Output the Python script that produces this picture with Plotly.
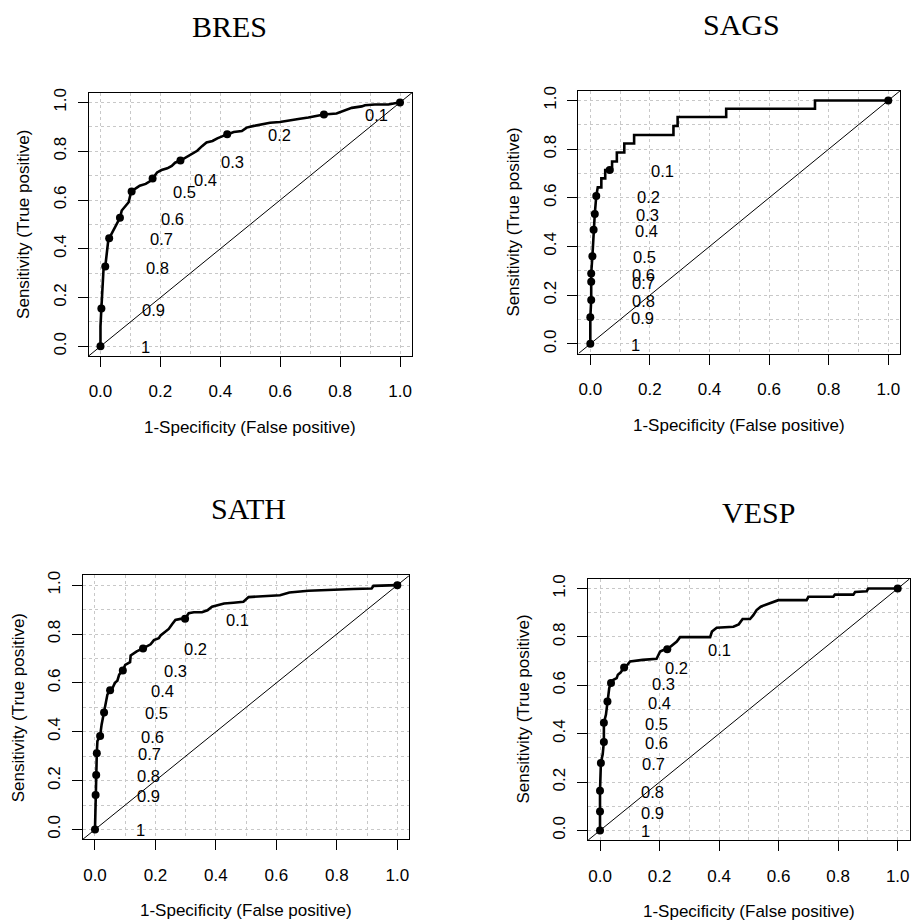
import plotly.graph_objects as go

# ---------------- data ----------------
CUTOFFS = [1.0, 0.9, 0.8, 0.7, 0.6, 0.5, 0.4, 0.3, 0.2, 0.1, 0.0]

BRES_FPR = [0, 0, 0.003, 0.007, 0.010, 0.016, 0.020, 0.026, 0.029, 0.038, 0.048, 0.059, 0.065,
            0.071, 0.082, 0.094, 0.100, 0.104, 0.118, 0.131, 0.151, 0.165, 0.174, 0.189, 0.204,
            0.223, 0.238, 0.249, 0.267, 0.285, 0.305, 0.323, 0.339, 0.354, 0.374, 0.390, 0.410,
            0.423, 0.445, 0.472, 0.488, 0.512, 0.535, 0.566, 0.599, 0.633, 0.666, 0.694, 0.716,
            0.746, 0.788, 0.811, 0.839, 0.872, 0.883, 0.916, 0.961, 0.983, 1.0]
BRES_TPR = [0, 0.082, 0.155, 0.245, 0.313, 0.327, 0.380, 0.435, 0.443, 0.465, 0.486, 0.514, 0.527,
            0.557, 0.573, 0.591, 0.622, 0.635, 0.648, 0.659, 0.666, 0.677, 0.688, 0.713, 0.723,
            0.730, 0.740, 0.753, 0.762, 0.774, 0.788, 0.802, 0.821, 0.836, 0.842, 0.853, 0.863,
            0.870, 0.879, 0.883, 0.897, 0.904, 0.910, 0.917, 0.920, 0.928, 0.933, 0.938, 0.944,
            0.951, 0.955, 0.965, 0.978, 0.984, 0.989, 0.992, 0.992, 0.997, 1.0]
BRES_CUT_FPR = [0, 0.003, 0.016, 0.029, 0.065, 0.104, 0.174, 0.267, 0.423, 0.746, 1.0]
BRES_CUT_TPR = [0, 0.155, 0.327, 0.443, 0.527, 0.635, 0.688, 0.762, 0.870, 0.951, 1.0]

SAGS_FPR = [0, 0, 0.003, 0.003, 0.003, 0.007, 0.011, 0.015, 0.020, 0.025, 0.037, 0.037, 0.050,
            0.050, 0.073, 0.073, 0.089, 0.089, 0.114, 0.114, 0.147, 0.147, 0.279, 0.279, 0.293,
            0.293, 0.456, 0.456, 0.754, 0.754, 1.0]
SAGS_TPR = [0, 0.109, 0.180, 0.255, 0.289, 0.360, 0.469, 0.534, 0.608, 0.643, 0.643, 0.680, 0.680,
            0.714, 0.714, 0.749, 0.749, 0.786, 0.786, 0.823, 0.823, 0.858, 0.858, 0.895, 0.895,
            0.932, 0.932, 0.966, 0.966, 1.0, 1.0]
SAGS_CUT_FPR = [0, 0, 0.003, 0.003, 0.003, 0.007, 0.011, 0.015, 0.020, 0.065, 1.0]
SAGS_CUT_TPR = [0, 0.109, 0.180, 0.255, 0.289, 0.360, 0.469, 0.534, 0.608, 0.714, 1.0]

SATH_FPR = [0, 0.001, 0.002, 0.003, 0.004, 0.006, 0.008, 0.017, 0.022, 0.028, 0.030, 0.036, 0.041,
            0.050, 0.058, 0.066, 0.074, 0.080, 0.092, 0.100, 0.116, 0.118, 0.138, 0.159, 0.173,
            0.184, 0.195, 0.211, 0.217, 0.235, 0.244, 0.255, 0.266, 0.283, 0.298, 0.310, 0.327,
            0.354, 0.372, 0.387, 0.405, 0.427, 0.458, 0.491, 0.508, 0.546, 0.612, 0.643, 0.706,
            0.854, 0.915, 0.921, 1.0]
SATH_TPR = [0, 0.077, 0.141, 0.199, 0.223, 0.312, 0.362, 0.383, 0.430, 0.471, 0.479, 0.512, 0.552,
            0.570, 0.579, 0.600, 0.609, 0.634, 0.651, 0.674, 0.685, 0.712, 0.729, 0.741, 0.749,
            0.758, 0.775, 0.783, 0.794, 0.813, 0.821, 0.840, 0.858, 0.862, 0.863, 0.885, 0.889,
            0.889, 0.897, 0.912, 0.919, 0.925, 0.928, 0.932, 0.951, 0.955, 0.959, 0.970, 0.977,
            0.984, 0.986, 0.997, 1.0]
SATH_CUT_FPR = [0, 0.002, 0.004, 0.006, 0.017, 0.030, 0.050, 0.092, 0.159, 0.298, 1.0]
SATH_CUT_TPR = [0, 0.141, 0.223, 0.312, 0.383, 0.479, 0.570, 0.651, 0.741, 0.863, 1.0]

VESP_FPR = [0, 0, 0, 0.003, 0.009, 0.013, 0.013, 0.020, 0.025, 0.031, 0.037, 0.045, 0.056, 0.060,
            0.069, 0.074, 0.081, 0.090, 0.101, 0.143, 0.190, 0.202, 0.215, 0.226, 0.242, 0.258,
            0.269, 0.319, 0.370, 0.376, 0.392, 0.448, 0.466, 0.479, 0.504, 0.515, 0.526, 0.540,
            0.566, 0.599, 0.694, 0.700, 0.784, 0.789, 0.851, 0.857, 0.896, 0.901, 1.0]
VESP_TPR = [0, 0.078, 0.164, 0.279, 0.315, 0.366, 0.445, 0.479, 0.533, 0.589, 0.610, 0.623, 0.630,
            0.644, 0.653, 0.664, 0.674, 0.682, 0.699, 0.705, 0.710, 0.740, 0.747, 0.749, 0.764,
            0.781, 0.799, 0.799, 0.799, 0.822, 0.838, 0.842, 0.852, 0.874, 0.874, 0.890, 0.911,
            0.925, 0.938, 0.952, 0.952, 0.966, 0.966, 0.975, 0.975, 0.986, 0.989, 1.0, 1.0]
VESP_CUT_FPR = [0, 0, 0, 0.003, 0.013, 0.013, 0.025, 0.037, 0.081, 0.226, 1.0]
VESP_CUT_TPR = [0, 0.078, 0.164, 0.279, 0.366, 0.445, 0.533, 0.610, 0.674, 0.749, 1.0]

TICK_VALS = [0, 0.2, 0.4, 0.6, 0.8, 1.0]
TICK_TEXT = ["0.0", "0.2", "0.4", "0.6", "0.8", "1.0"]
X_TITLE = "1-Specificity (False positive)"
Y_TITLE = "Sensitivity (True positive)"

# ---------------- layout (pixel boxes of each plot region) ----------------
W, H = 914, 923
AX_RANGE = [-0.04, 1.04]
# name, data, (left, right, top, bottom) box in pixels, title centre x in pixels
PANELS = [
    ("BRES", BRES_FPR, BRES_TPR, BRES_CUT_FPR, BRES_CUT_TPR, (88.5, 412.0, 88.2, 353.0), 230),
    ("SAGS", SAGS_FPR, SAGS_TPR, SAGS_CUT_FPR, SAGS_CUT_TPR, (578.4, 900.2, 86.2, 350.5), 741),
    ("SATH", SATH_FPR, SATH_TPR, SATH_CUT_FPR, SATH_CUT_TPR, (82.9, 409.4, 573.5, 838.8), 248),
    ("VESP", VESP_FPR, VESP_TPR, VESP_CUT_FPR, VESP_CUT_TPR, (588.1, 909.6, 577.0, 839.7), 758),
]

SANS = "Liberation Sans, Arial, sans-serif"
SERIF = "Liberation Serif, Times New Roman, serif"
GRID = "#c8c8c8"

fig = go.Figure()
annotations = []
layout_axes = {}

for i, (name, fpr, tpr, cfpr, ctpr, (l, r, t, b), tx) in enumerate(PANELS):
    n = "" if i == 0 else str(i + 1)
    xa, ya = "x" + n, "y" + n
    xdom = [l / W, r / W]
    ydom = [1 - b / H, 1 - t / H]
    common = dict(
        range=AX_RANGE, showline=True, mirror=True, linecolor="black", linewidth=1,
        ticks="outside", ticklen=10, tickwidth=1, tickcolor="black",
        tickvals=TICK_VALS, ticktext=TICK_TEXT, zeroline=False,
        showgrid=True, gridcolor=GRID, griddash="dot", gridwidth=1,
        minor=dict(dtick=0.1, tick0=0, showgrid=True, gridcolor=GRID, griddash="dot",
                   gridwidth=1, ticks=""),
        tickfont=dict(family=SANS, size=17, color="black"), fixedrange=True,
    )
    layout_axes["xaxis" + n] = dict(common, domain=xdom, anchor=ya, ticklabelstandoff=10)
    layout_axes["yaxis" + n] = dict(common, domain=ydom, anchor=xa, tickangle=-90,
                                    ticklabelstandoff=5)

    # diagonal reference line y = x over the whole axis range
    fig.add_trace(go.Scatter(x=AX_RANGE, y=AX_RANGE, mode="lines",
                             line=dict(color="black", width=1), xaxis=xa, yaxis=ya,
                             hoverinfo="skip", showlegend=False))
    # ROC curve
    fig.add_trace(go.Scatter(x=fpr, y=tpr, mode="lines",
                             line=dict(color="black", width=2.6), xaxis=xa, yaxis=ya,
                             showlegend=False))
    # cutoff points
    fig.add_trace(go.Scatter(x=cfpr, y=ctpr, mode="markers",
                             marker=dict(color="black", size=8), xaxis=xa, yaxis=ya,
                             showlegend=False))
    # cutoff labels
    for c, px, py in zip(CUTOFFS, cfpr, ctpr):
        if c == 0:
            continue
        txt = "1" if c == 1 else f"{c:.1f}"
        annotations.append(dict(x=px, y=py, xref=xa, yref=ya, text=txt, showarrow=False,
                                xanchor="left", yanchor="middle", xshift=39, yshift=-1,
                                font=dict(family=SANS, size=16.5, color="black")))

    cx = (l + r) / 2
    # panel title
    annotations.append(dict(x=tx / W, y=1 - (t - 67) / H, xref="paper", yref="paper",
                            text=name, showarrow=False, xanchor="center", yanchor="middle",
                            font=dict(family=SERIF, size=30, color="black")))
    # x axis title
    annotations.append(dict(x=cx / W, y=1 - (b + 72) / H, xref="paper", yref="paper",
                            text=X_TITLE, showarrow=False, xanchor="center", yanchor="middle",
                            font=dict(family=SANS, size=17, color="black")))
    # y axis title
    annotations.append(dict(x=(l - 65) / W, y=1 - ((t + b) / 2) / H, xref="paper", yref="paper",
                            text=Y_TITLE, showarrow=False, xanchor="center", yanchor="middle",
                            textangle=-90,
                            font=dict(family=SANS, size=17, color="black")))

fig.update_layout(
    width=W, height=H, margin=dict(l=0, r=0, t=0, b=0),
    paper_bgcolor="white", plot_bgcolor="white", showlegend=False,
    annotations=annotations, **layout_axes,
)

fig.write_html(
    "out.html",
    config={"displayModeBar": False},
    post_script="document.body.style.margin='0';document.body.style.overflow='hidden';",
)
